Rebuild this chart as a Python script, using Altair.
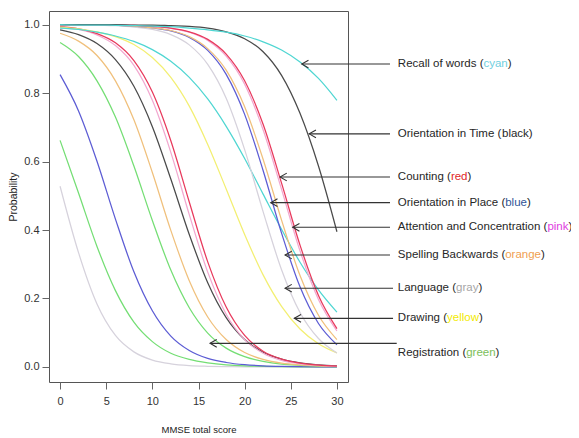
import altair as alt
import pandas as pd

# ---------------- data ----------------
X_GRID = [0, 2, 4, 6, 8, 10, 12, 14, 16, 18, 20, 22, 24, 26, 28, 30]

CURVE_IDS = ["gray_a", "green_a", "blue_a", "green_b", "orange_a", "black_a", "pink_a", "red_a",
             "yellow_a", "cyan_a", "gray_b", "blue_b", "orange_b", "pink_b", "red_b", "black_b", "cyan_b"]
CURVE_COLORS = ["#D6D2DC", "#74DE74", "#5C5CD4", "#74DE74", "#F0C07C", "#4A4A4A", "#F2A8D0", "#E8395C",
                "#F3EF72", "#4FD6D2", "#D6D2DC", "#5C5CD4", "#F0C07C", "#F2A8D0", "#E8395C", "#4A4A4A", "#4FD6D2"]

gray_a = [0.528, 0.334, 0.184, 0.092, 0.044, 0.020, 0.009, 0.004, 0.002, 0.001, 0.0004, 0.0002, 0.0001, 0.0, 0.0, 0.0]
green_a = [0.662, 0.508, 0.352, 0.223, 0.131, 0.074, 0.040, 0.022, 0.012, 0.006, 0.003, 0.002, 0.001, 0.0005, 0.0003, 0.0001]
blue_a = [0.854, 0.748, 0.601, 0.432, 0.278, 0.164, 0.090, 0.048, 0.025, 0.013, 0.0065, 0.0033, 0.0017, 0.0009, 0.0004, 0.0002]
green_b = [0.948, 0.907, 0.836, 0.730, 0.587, 0.428, 0.283, 0.173, 0.099, 0.055, 0.030, 0.016, 0.008, 0.0045, 0.0024, 0.0012]
orange_a = [0.975, 0.952, 0.910, 0.836, 0.722, 0.568, 0.399, 0.252, 0.146, 0.080, 0.042, 0.022, 0.011, 0.0057, 0.0029, 0.0015]
black_a = [0.985, 0.971, 0.945, 0.898, 0.820, 0.702, 0.549, 0.387, 0.246, 0.144, 0.080, 0.043, 0.023, 0.012, 0.006, 0.003]
pink_a = [0.993, 0.986, 0.970, 0.939, 0.881, 0.779, 0.627, 0.445, 0.277, 0.154, 0.080, 0.040, 0.019, 0.009, 0.0045, 0.002]
red_a = [0.994, 0.988, 0.974, 0.947, 0.895, 0.803, 0.661, 0.482, 0.307, 0.175, 0.092, 0.046, 0.023, 0.011, 0.005, 0.0025]
yellow_a = [0.993, 0.988, 0.979, 0.965, 0.942, 0.904, 0.846, 0.762, 0.650, 0.520, 0.387, 0.269, 0.177, 0.111, 0.068, 0.041]
cyan_a = [0.990, 0.986, 0.978, 0.967, 0.951, 0.927, 0.893, 0.846, 0.783, 0.703, 0.609, 0.505, 0.402, 0.306, 0.225, 0.160]
gray_b = [1.0, 0.999, 0.999, 0.997, 0.993, 0.986, 0.971, 0.941, 0.884, 0.785, 0.635, 0.454, 0.284, 0.159, 0.083, 0.041]
blue_b = [1.0, 1.0, 0.999, 0.998, 0.996, 0.991, 0.982, 0.963, 0.925, 0.855, 0.738, 0.574, 0.391, 0.234, 0.127, 0.065]
orange_b = [1.0, 1.0, 0.999, 0.998, 0.996, 0.991, 0.983, 0.965, 0.930, 0.867, 0.760, 0.607, 0.429, 0.267, 0.151, 0.080]
pink_b = [1.0, 1.0, 0.999, 0.999, 0.998, 0.995, 0.989, 0.978, 0.954, 0.908, 0.826, 0.693, 0.519, 0.339, 0.197, 0.105]
red_b = [1.0, 1.0, 1.0, 0.999, 0.998, 0.995, 0.990, 0.979, 0.957, 0.914, 0.836, 0.709, 0.537, 0.356, 0.209, 0.112]
black_b = [1.0, 1.0, 1.0, 1.0, 0.999, 0.999, 0.997, 0.995, 0.990, 0.979, 0.959, 0.921, 0.852, 0.741, 0.587, 0.395]
cyan_b = [1.0, 0.999, 0.999, 0.998, 0.997, 0.996, 0.994, 0.990, 0.985, 0.978, 0.967, 0.950, 0.926, 0.891, 0.843, 0.779]

CURVE_VALUES = [gray_a, green_a, blue_a, green_b, orange_a, black_a, pink_a, red_a,
                yellow_a, cyan_a, gray_b, blue_b, orange_b, pink_b, red_b, black_b, cyan_b]

# annotations
LABEL_PREFIX = ["Recall of words (", "Orientation in Time (", "Counting (", "Orientation in Place (",
                "Attention and Concentration (", "Spelling Backwards (", "Language (", "Drawing (",
                "Registration ("]
LABEL_WORD = ["cyan", "black", "red", "blue", "pink", "orange", "gray", "yellow", "green"]
LABEL_WORD_COLOR = ["#6FCFE0", "#262626", "#E02828", "#2F5597", "#E03CE0", "#F0A050", "#A6A6A6",
                    "#F2EA00", "#7CC05A"]
TIP_X = [26.19, 27.0, 23.84, 22.83, 25.21, 24.38, 24.38, 25.38, 16.25]
TIP_Y = [0.885, 0.681, 0.555, 0.480, 0.408, 0.327, 0.230, 0.142, 0.069]
TEXT_Y = [0.885, 0.681, 0.555, 0.480, 0.408, 0.327, 0.230, 0.142, 0.040]
LINE_END_X = [35.75, 35.75, 35.75, 35.75, 35.75, 35.75, 36.08, 36.08, 36.48]
LABEL_X = 36.6

X_TICKS = [0, 5, 10, 15, 20, 25, 30]
Y_TICKS = [0.0, 0.2, 0.4, 0.6, 0.8, 1.0]

# ---------------- layout ----------------
X_DOMAIN = [-1.2, 31.2]
Y_DOMAIN = [-0.044, 1.04]
W, H = 299, 371
PPU = W / (X_DOMAIN[1] - X_DOMAIN[0])
FONT = "Liberation Sans"
LABEL_SIZE = 11.5

ARIAL = {' ': 278, '(': 333, ')': 333, 'a': 556, 'b': 556, 'c': 500, 'd': 556, 'e': 556, 'f': 278,
         'g': 556, 'h': 556, 'i': 222, 'j': 222, 'k': 500, 'l': 222, 'm': 833, 'n': 556, 'o': 556,
         'p': 556, 'q': 556, 'r': 333, 's': 500, 't': 278, 'u': 556, 'v': 500, 'w': 722, 'x': 500,
         'y': 500, 'z': 500, 'A': 667, 'B': 667, 'C': 722, 'D': 722, 'E': 667, 'F': 611, 'G': 778,
         'H': 722, 'I': 278, 'L': 556, 'M': 833, 'O': 778, 'P': 667, 'R': 722, 'S': 667, 'T': 611}


def text_width(s, size):
    return sum(ARIAL.get(c, 556) for c in s) / 1000.0 * size


rows = []
for cid, col, vals in zip(CURVE_IDS, CURVE_COLORS, CURVE_VALUES):
    for xv, pv in zip(X_GRID, vals):
        rows.append({"x": xv, "p": pv, "curve": cid, "color": col})
curves = pd.DataFrame(rows)

ann = pd.DataFrame({
    "tip_x": TIP_X, "tip_y": TIP_Y, "end_x": LINE_END_X, "text_y": TEXT_Y,
    "prefix": LABEL_PREFIX, "word": LABEL_WORD, "wcolor": LABEL_WORD_COLOR,
})
ann["label_x"] = LABEL_X
ann["word_x"] = [LABEL_X + text_width(p, LABEL_SIZE) / PPU for p in LABEL_PREFIX]
ann["close_x"] = [LABEL_X + text_width(p + w, LABEL_SIZE) / PPU for p, w in zip(LABEL_PREFIX, LABEL_WORD)]
ann["close"] = ")"

xscale = alt.Scale(domain=X_DOMAIN, nice=False, zero=False)
yscale = alt.Scale(domain=Y_DOMAIN, nice=False, zero=False)

x_axis = alt.Axis(values=X_TICKS, title="MMSE total score", grid=False, domain=False, tickSize=7,
                  tickColor="#666", labelFont=FONT, labelFontSize=11, labelColor="#333",
                  labelPadding=6, titleFont=FONT, titleFontSize=9.5, titleFontWeight="normal",
                  titleColor="#222", titleY=47, titleBaseline="middle")
y_axis = alt.Axis(values=Y_TICKS, format=".1f", title="Probability", grid=False, domain=False,
                  tickSize=7, tickColor="#666", labelFont=FONT, labelFontSize=11, labelColor="#333",
                  labelPadding=3, titleFont=FONT, titleFontSize=10.5, titleFontWeight="normal",
                  titleColor="#222", titleX=-36, titleY=H / 2, titleAngle=-90,
                  titleBaseline="middle", titleAlign="center")

lines = alt.Chart(curves).mark_line(strokeWidth=1.25, interpolate="monotone").encode(
    x=alt.X("x:Q", scale=xscale, axis=x_axis),
    y=alt.Y("p:Q", scale=yscale, axis=y_axis),
    detail="curve:N",
    color=alt.Color("color:N", scale=None),
)

base = alt.Chart(ann)
arrow_lines = base.mark_rule(color="#333", strokeWidth=1.1).encode(
    x=alt.X("tip_x:Q", scale=xscale), x2="end_x:Q", y=alt.Y("tip_y:Q", scale=yscale))
arrow_heads = base.mark_point(shape="M 1 -0.577 L 0 0 L 1 0.577", filled=False, size=180,
                              color="#333", strokeWidth=1.1, opacity=1).encode(
    x=alt.X("tip_x:Q", scale=xscale), y=alt.Y("tip_y:Q", scale=yscale))
txt_kw = dict(align="left", baseline="middle", font=FONT, fontSize=LABEL_SIZE)
t_prefix = base.mark_text(color="#262626", **txt_kw).encode(
    x=alt.X("label_x:Q", scale=xscale), y=alt.Y("text_y:Q", scale=yscale), text="prefix:N")
t_word = base.mark_text(**txt_kw).encode(
    x=alt.X("word_x:Q", scale=xscale), y=alt.Y("text_y:Q", scale=yscale), text="word:N",
    color=alt.Color("wcolor:N", scale=None))
t_close = base.mark_text(color="#262626", **txt_kw).encode(
    x=alt.X("close_x:Q", scale=xscale), y=alt.Y("text_y:Q", scale=yscale), text="close:N")

chart = alt.layer(lines, arrow_lines, arrow_heads, t_prefix, t_word, t_close).properties(
    width=W, height=H,
    padding={"left": 41, "top": 3, "right": 223, "bottom": 52},
    autosize=alt.AutoSizeParams(type="none"),
).configure_view(stroke="#555", strokeWidth=1)

chart.save("out.html", embed_options={"renderer": "svg", "actions": False})
